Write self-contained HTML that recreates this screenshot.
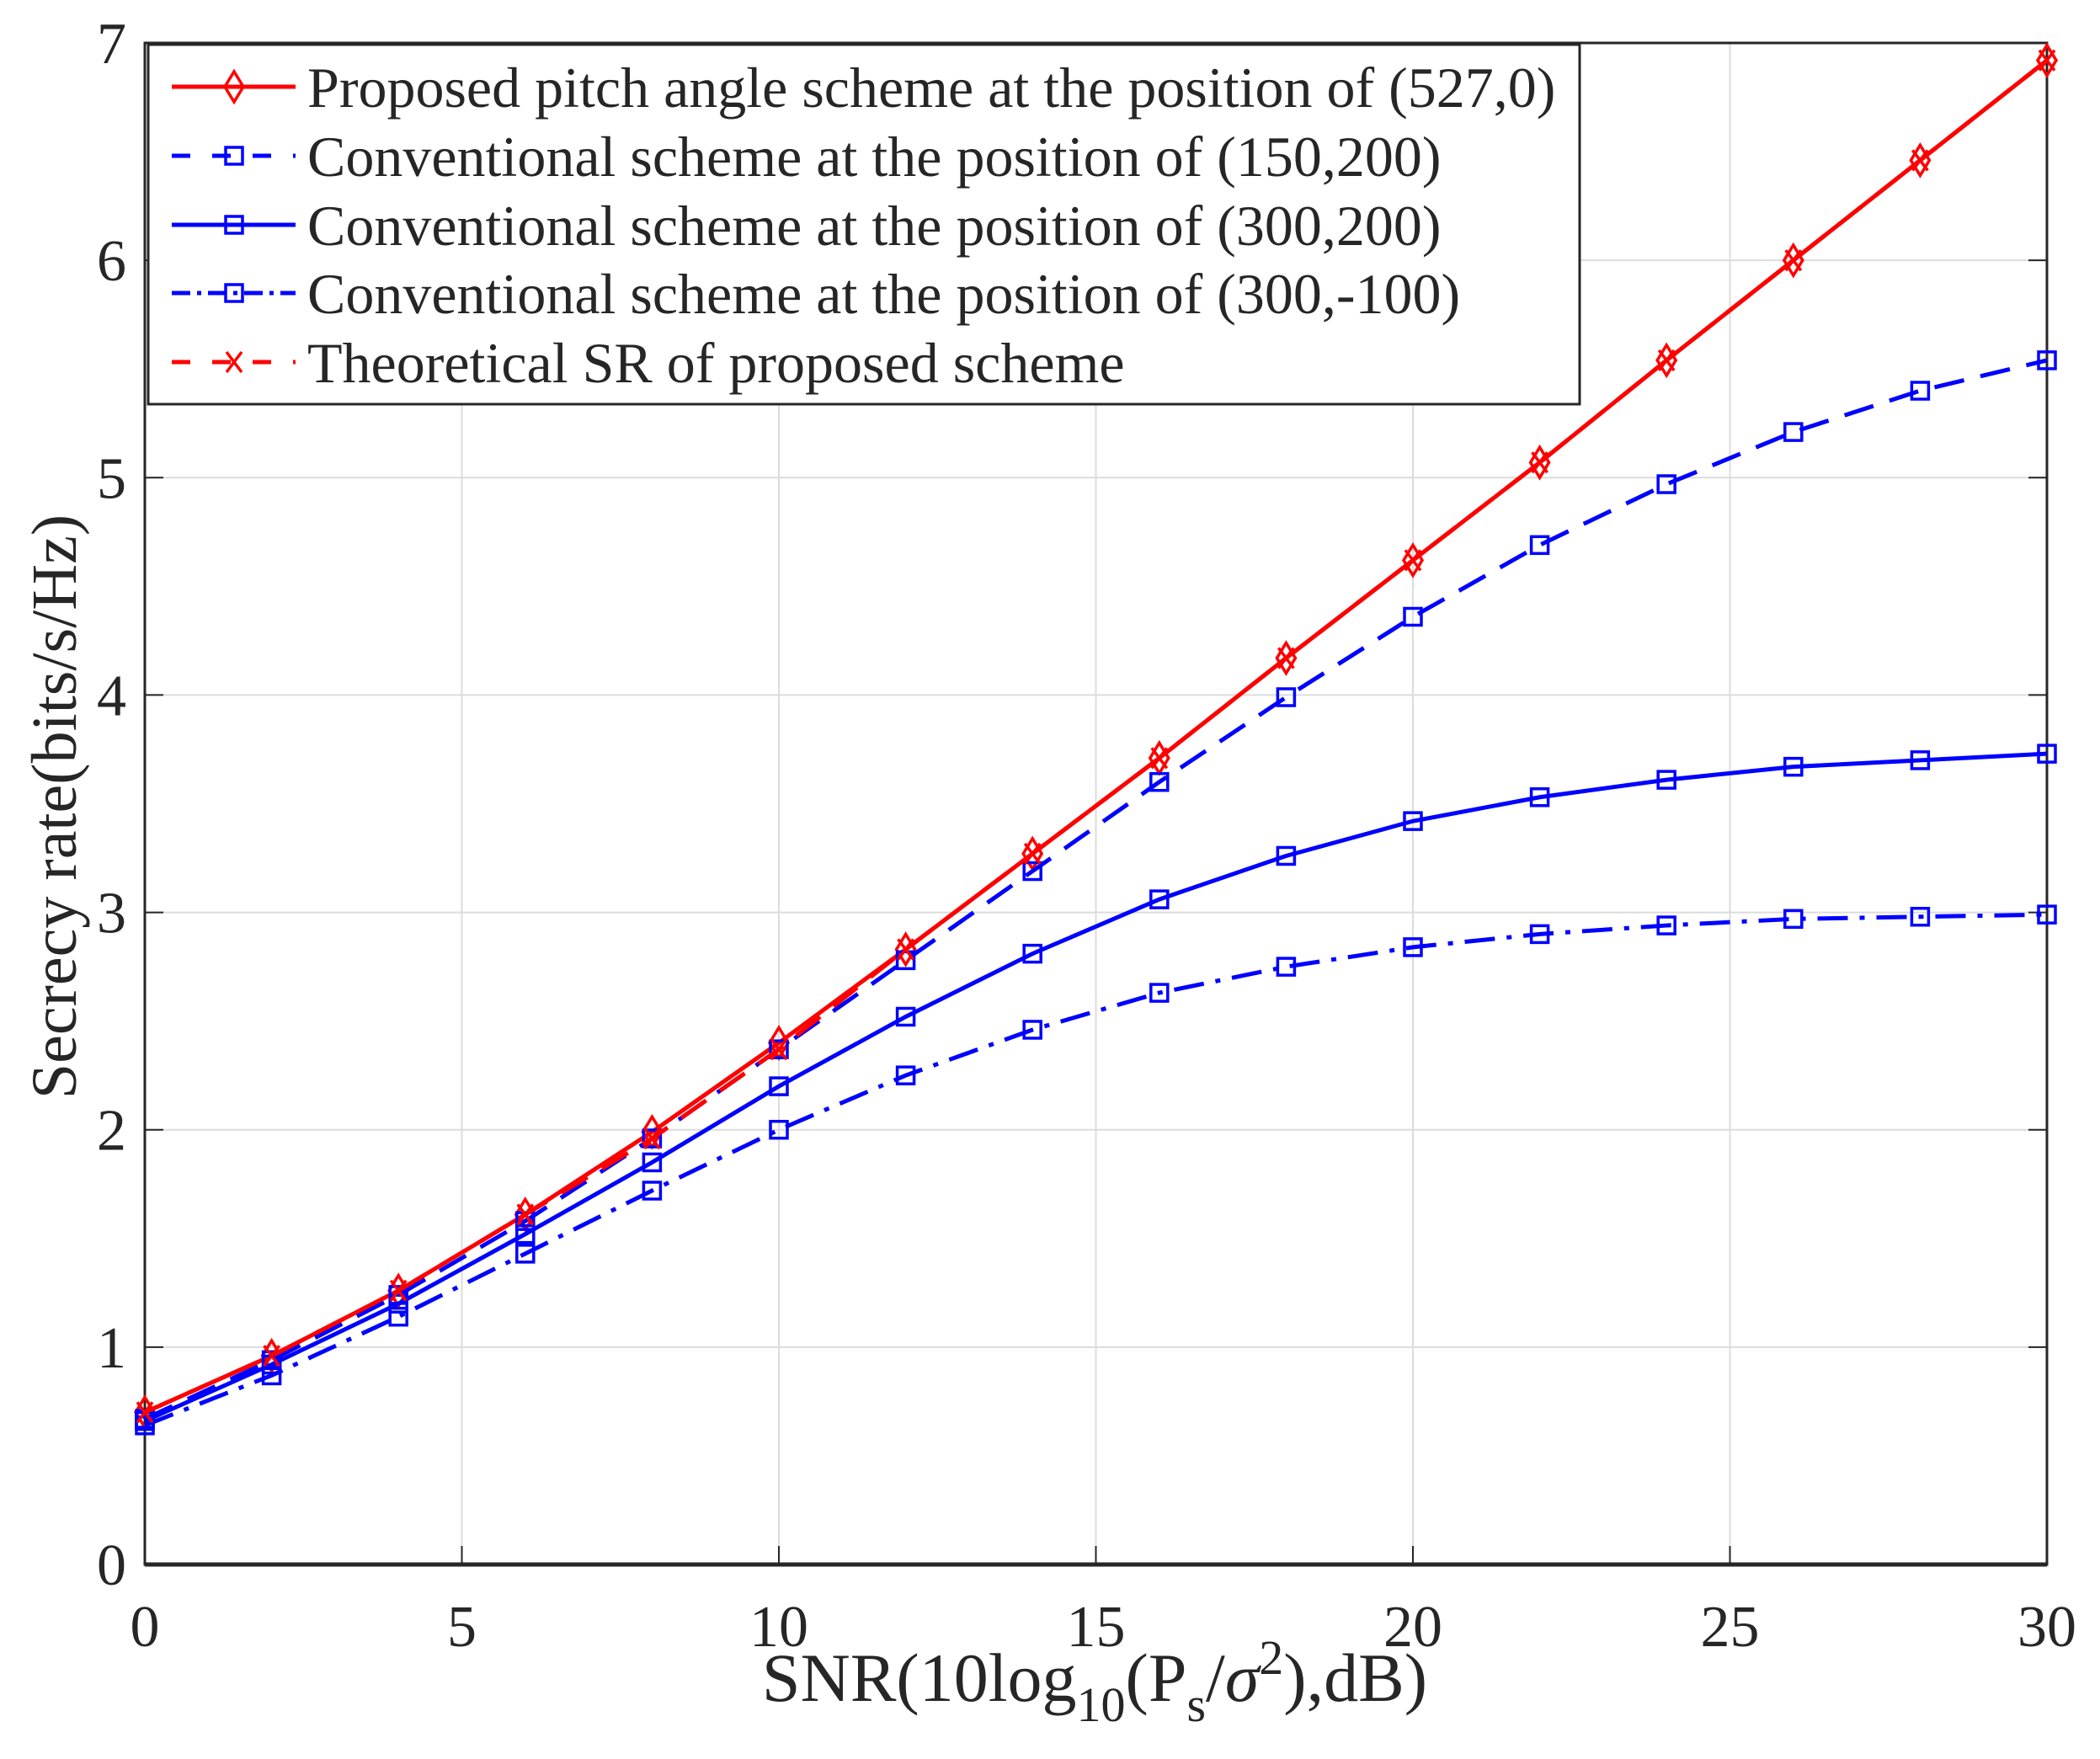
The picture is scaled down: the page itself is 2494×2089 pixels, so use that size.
<!DOCTYPE html>
<html><head><meta charset="utf-8"><style>
html,body{margin:0;padding:0;background:#fff}
svg text{font-family:"Liberation Serif",serif;fill:#262626}
</style></head><body>
<svg id="chart" xmlns="http://www.w3.org/2000/svg" width="2494" height="2084" viewBox="0 0 2494 2084">
<rect width="2494" height="2084" fill="#fff"/>
<g id="grid"></g>
<g id="axes"></g>
<g id="series"></g>
<g id="legend"></g>
</svg>
<script>
const xValues=[0,2,4,6,8,10,12,14,16,18,20,22,24,26,28,30];
const proposed=[0.70,0.96,1.26,1.61,1.99,2.40,2.83,3.27,3.71,4.17,4.62,5.07,5.54,6.00,6.46,6.92];
const conv150=[0.67,0.94,1.24,1.58,1.96,2.37,2.78,3.19,3.60,3.99,4.36,4.69,4.97,5.21,5.40,5.54];
const conv300=[0.66,0.92,1.20,1.52,1.85,2.20,2.52,2.81,3.06,3.26,3.42,3.53,3.61,3.67,3.70,3.73];
const conv300n=[0.64,0.87,1.14,1.43,1.72,2.00,2.25,2.46,2.63,2.75,2.84,2.90,2.94,2.97,2.98,2.99];
const theoretical=[0.70,0.96,1.26,1.61,1.96,2.37,2.83,3.27,3.71,4.17,4.62,5.07,5.54,6.00,6.46,6.92];
const xTicks=[0,5,10,15,20,25,30];
const yTicks=[0,1,2,3,4,5,6,7];
const legendLabels=["Proposed pitch angle scheme at the position of (527,0)","Conventional scheme at the position of (150,200)","Conventional scheme at the position of (300,200)","Conventional scheme at the position of (300,-100)","Theoretical SR of proposed scheme"];

const L=172,R=2431,T=51,B=1858;
const sx=v=>L+(v-0)/(30-0)*(R-L);
const sy=v=>B-(v-0)/(7-0)*(B-T);
const NS="http://www.w3.org/2000/svg";
function mk(tag,attrs,parent){const e=document.createElementNS(NS,tag);for(const k in attrs)e.setAttribute(k,attrs[k]);parent.appendChild(e);return e;}
const grid=document.getElementById('grid'),axes=document.getElementById('axes'),series=document.getElementById('series'),legend=document.getElementById('legend');

xTicks.forEach(t=>{
  const g=mk('line',{x1:sx(t),x2:sx(t),y1:T,y2:B,stroke:'#dcdcdc','stroke-width':2},grid);
  
  
  const tk=mk('line',{x1:sx(t),x2:sx(t),y1:B,y2:B-22,stroke:'#262626','stroke-width':2},axes);
  
  
  const tx=mk('text',{x:sx(t),y:1955,'font-size':70,'text-anchor':'middle'},axes);
  tx.textContent=t;
  
  
});
yTicks.forEach(t=>{
  const g=mk('line',{x1:L,x2:R,y1:sy(t),y2:sy(t),stroke:'#dcdcdc','stroke-width':2},grid);
  
  
  const tk=mk('line',{x1:L,x2:L+22,y1:sy(t),y2:sy(t),stroke:'#262626','stroke-width':2},axes);
  
  
  const tk2=mk('line',{x1:R,x2:R-22,y1:sy(t),y2:sy(t),stroke:'#262626','stroke-width':2},axes);
  
  
  const tx=mk('text',{x:150,y:sy(t)+24,'font-size':70,'text-anchor':'end'},axes);
  tx.textContent=t;
  
  
});
const frame=mk('rect',{x:L,y:T,width:R-L,height:B-T,fill:'none',stroke:'#262626','stroke-width':3},axes);


const bx=mk('line',{x1:L,x2:R,y1:B,y2:B,stroke:'#262626','stroke-width':5},axes);



const xt=mk('text',{x:1300,y:2020,'font-size':82,'text-anchor':'middle'},axes);
xt.innerHTML='SNR(10log<tspan font-size="58" dy="24">10</tspan><tspan dy="-24">(P</tspan><tspan font-size="58" dy="24">s</tspan><tspan dy="-24">/</tspan><tspan font-style="italic">σ</tspan><tspan font-size="58" dy="-32">2</tspan><tspan dy="32">),dB)</tspan>';


const yt=mk('text',{x:0,y:0,'font-size':76,'text-anchor':'middle',transform:'translate(90,958) rotate(-90)'},axes);
yt.textContent='Secrecy rate(bits/s/Hz)';



const RED='#ff0000',BLUE='#0000ff';
const specs=[
 {name:'proposed',data:proposed,color:RED,dash:'',ldash:'',marker:'diamond'},
 {name:'conv-150-200',data:conv150,color:BLUE,dash:'36 20',ldash:'22 26',marker:'square'},
 {name:'conv-300-200',data:conv300,color:BLUE,dash:'',ldash:'',marker:'square'},
 {name:'conv-300-neg100',data:conv300n,color:BLUE,dash:'36 14 6 14',ldash:'22 8 5 8',marker:'square'},
 {name:'theoretical',data:theoretical,color:RED,dash:'36 20',ldash:'22 26',marker:'x'}
];
function marker(type,x,y,color,parent){
  let e;
  if(type==='square') e=mk('rect',{x:x-10,y:y-10,width:20,height:20,fill:'none',stroke:color,'stroke-width':3.5},parent);
  else if(type==='diamond') e=mk('polygon',{points:`${x},${y-18} ${x+11},${y} ${x},${y+18} ${x-11},${y}`,fill:'none',stroke:color,'stroke-width':3.5},parent);
  else e=mk('path',{d:`M${x-9},${y-12}L${x+9},${y+12}M${x-9},${y+12}L${x+9},${y-12}`,stroke:color,'stroke-width':3.5,fill:'none'},parent);
  return e;
}
specs.forEach(s=>{
  const g=mk('g',{},series);
  
  
  const pts=xValues.map((x,i)=>sx(x)+','+sy(s.data[i])).join(' ');
  const pl=mk('polyline',{points:pts,fill:'none',stroke:s.color,'stroke-width':5,'stroke-dasharray':s.dash},g);
  
  
  xValues.forEach((x,i)=>{
    const m=marker(s.marker,sx(x),sy(s.data[i]),s.color,g);
    
    
  });
});

const lb=mk('rect',{x:176,y:53,width:1700,height:427,fill:'#fff',stroke:'#262626','stroke-width':3},legend);


const rows=[103,185,267,348,430];
specs.forEach((s,i)=>{
  const g=mk('g',{},legend);
  
  
  const y=rows[i];
  mk('line',{x1:204,x2:351,y1:y,y2:y,stroke:s.color,'stroke-width':5,'stroke-dasharray':s.ldash},g);
  marker(s.marker,278,y,s.color,g);
  const t=mk('text',{x:365,y:y+24,'font-size':68},g);
  t.textContent=legendLabels[i];
  
  
});
</script>
</body></html>
